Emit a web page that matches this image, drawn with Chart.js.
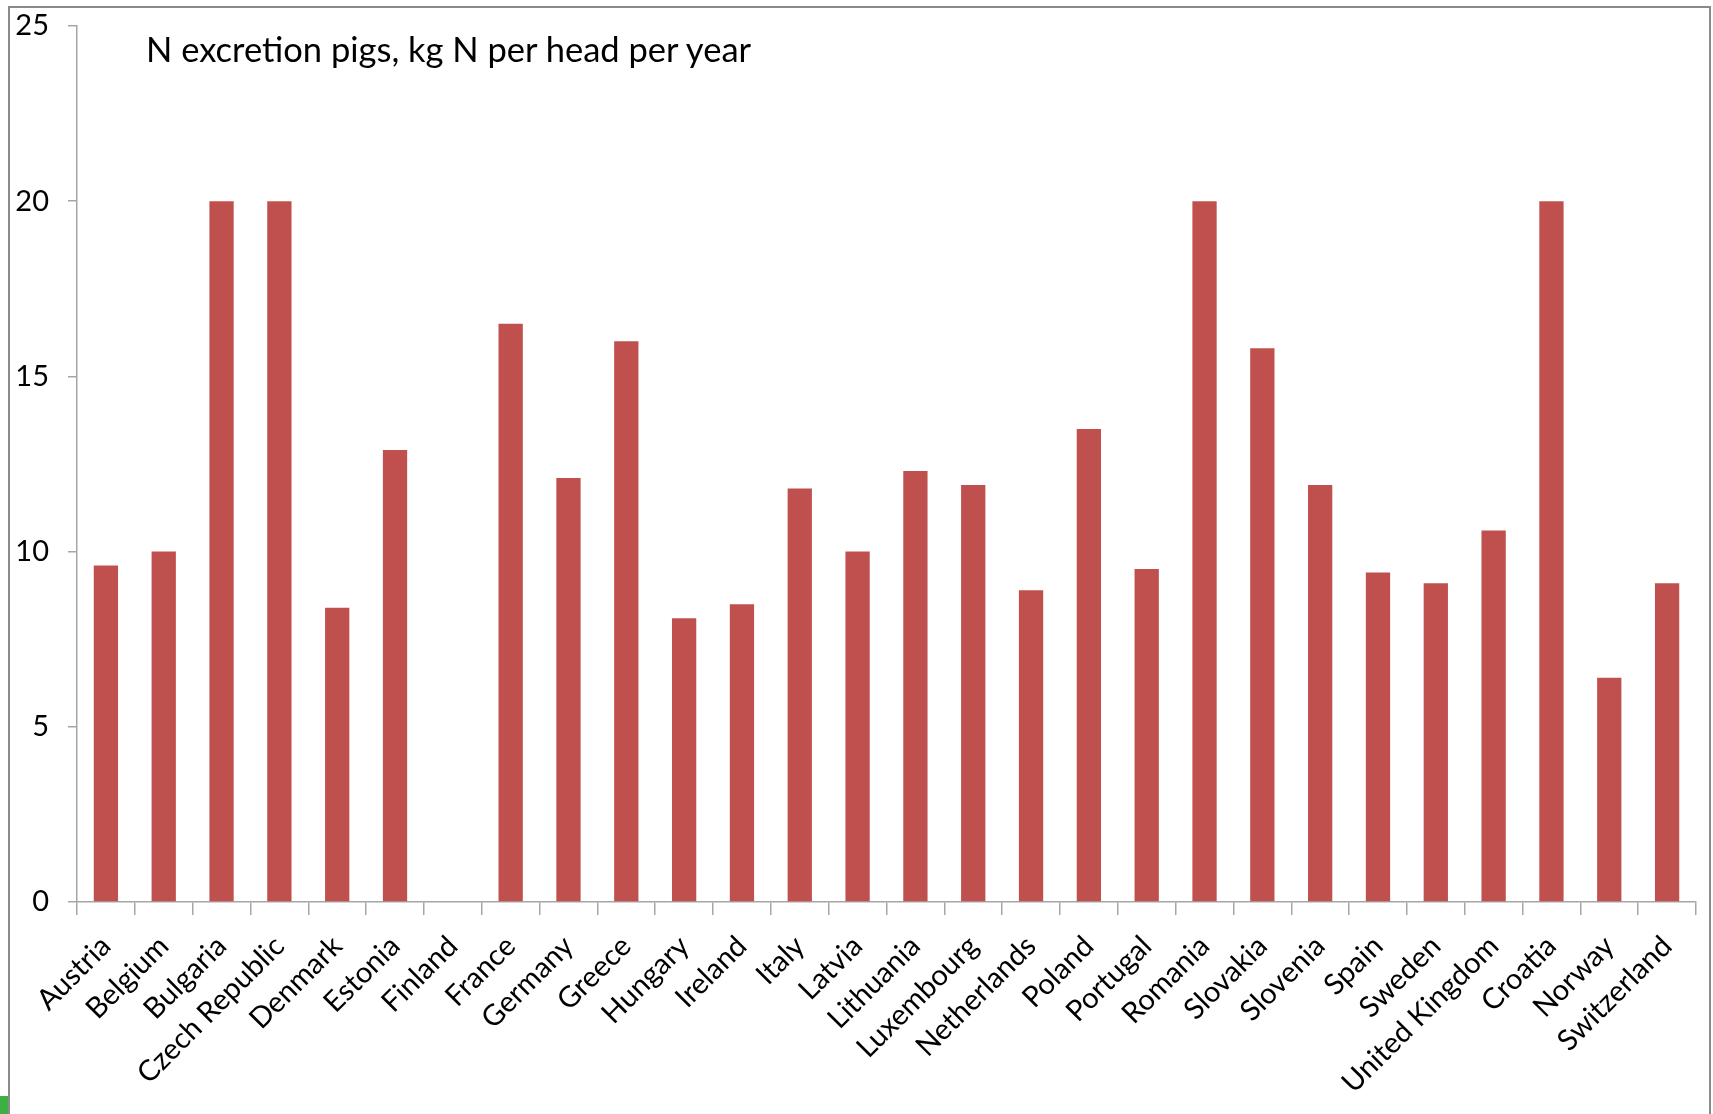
<!DOCTYPE html>
<html>
<head>
<meta charset="utf-8">
<script src="https://cdn.jsdelivr.net/npm/chart.js@4.4.0/dist/chart.umd.min.js"></script>
<style>
  html, body { margin: 0; padding: 0; background: #fff; overflow: hidden; }
  #wrap { position: relative; width: 1713px; height: 1114px; }
  #frame { position: absolute; left: 8px; top: 6px; width: 1703px; height: 1130px; border: 2px solid #8a8a8a; border-bottom: none; box-sizing: border-box; }
  #title { position: absolute; left: 146px; top: 32px; font-family: Lato, "Open Sans", sans-serif; font-size: 34.5px; line-height: 34px; color: #000; white-space: nowrap; }
  #mark { position: absolute; left: 0; top: 1096px; width: 8px; height: 18px; background: #3cb043; }
  canvas { position: absolute; left: 0; top: 0; }
</style>
</head>
<body>
<div id="wrap">
  <div id="frame"></div>
  <canvas id="chart" width="1713" height="1114"></canvas>
  <div id="title">N excretion pigs, kg N per head per year</div>
  <div id="mark"></div>
</div>
<script>
// datos
const countries = ['Austria', 'Belgium', 'Bulgaria', 'Czech Republic', 'Denmark', 'Estonia', 'Finland',
  'France', 'Germany', 'Greece', 'Hungary', 'Ireland', 'Italy', 'Latvia', 'Lithuania', 'Luxembourg',
  'Netherlands', 'Poland', 'Portugal', 'Romania', 'Slovakia', 'Slovenia', 'Spain', 'Sweden',
  'United Kingdom', 'Croatia', 'Norway', 'Switzerland'];
const nExcretion = [9.6, 10.0, 20, 20, 8.4, 12.9, null,
  16.5, 12.1, 16.0, 8.1, 8.5, 11.8, 10.0, 12.3, 11.9,
  8.9, 13.5, 9.5, 20, 15.8, 11.9, 9.4, 9.1,
  10.6, 20, 6.4, 9.1];
const yTicks = [0, 5, 10, 15, 20, 25];

const axisGray = '#a6a6a6';
const font = { family: 'Lato, "Open Sans", sans-serif', size: 29 };

const ctx = document.getElementById('chart').getContext('2d');
new Chart(ctx, {
    type: 'bar',
    data: {
        labels: countries,
        datasets: [{
            data: nExcretion,
            backgroundColor: '#C0504D',
            barPercentage: 0.42,
            categoryPercentage: 1.0
        }]
    },
    options: {
        responsive: false,
        animation: false,
        layout: { padding: { top: 26, right: 17, left: 0, bottom: 0 } },
        plugins: { legend: { display: false }, tooltip: { enabled: false } },
        scales: {
            x: {
                grid: { drawOnChartArea: false, drawTicks: true, tickLength: 13, color: axisGray, lineWidth: 1.5 },
                border: { color: axisGray, width: 1.5 },
                ticks: { color: '#000', font: font, minRotation: 45, maxRotation: 45, padding: 14, autoSkip: false },
                afterFit: (scale) => { scale.height = 212; }
            },
            y: {
                min: 0,
                max: 25,
                afterBuildTicks: (scale) => { scale.ticks = yTicks.map(v => ({ value: v })); },
                grid: { drawOnChartArea: false, drawTicks: true, tickLength: 9, color: axisGray, lineWidth: 1.5 },
                border: { color: axisGray, width: 1.5 },
                ticks: { color: '#000', font: font, padding: 19 },
                afterFit: (scale) => { scale.width = 77; scale.paddingTop = 0; }
            }
        }
    }
});
</script>
</body>
</html>
